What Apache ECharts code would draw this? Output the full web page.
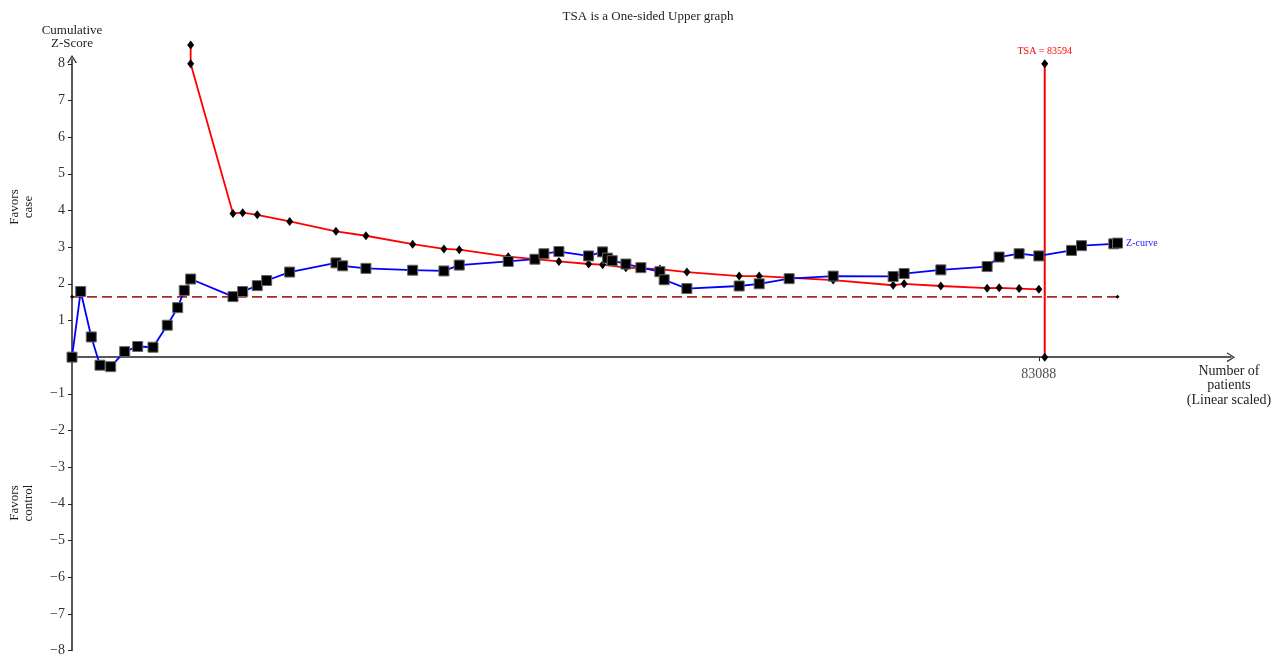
<!DOCTYPE html>
<html>
<head>
<meta charset="utf-8">
<script src="https://cdn.jsdelivr.net/npm/echarts@6/dist/echarts.min.js"></script>
<style>
  html, body { margin: 0; padding: 0; background: #fff; }
  #chart { width: 1279px; height: 656px; }
</style>
</head>
<body>
<div id="chart"></div>
<script>
// Cumulative Z-curve: accrued patients and cumulative Z-score per update
const zPatients = [0, 748, 1658, 2406, 3325, 4528, 5645, 6960, 8188, 9082,
  9649, 10199, 13833, 14667, 15921, 16729, 18705, 22683, 23259, 25260,
  29273, 31962, 33277, 37487, 39781, 40554, 41843, 44395, 45598, 46027,
  46423, 47600, 48888, 50521, 50890, 52841, 57334, 59053, 61630, 65411,
  70566, 71511, 74664, 78643, 79674, 81392, 83088, 85896, 86754, 89529,
  89848];
const zScores = [0, 1.79, 0.55, -0.22, -0.26, 0.15, 0.29, 0.27, 0.87, 1.35,
  1.82, 2.13, 1.65, 1.79, 1.95, 2.09, 2.32, 2.57, 2.49, 2.42,
  2.37, 2.35, 2.51, 2.61, 2.67, 2.82, 2.88, 2.76, 2.87, 2.70,
  2.63, 2.54, 2.44, 2.33, 2.11, 1.87, 1.94, 2.00, 2.14, 2.21,
  2.20, 2.28, 2.38, 2.47, 2.73, 2.82, 2.76, 2.91, 3.04, 3.09,
  3.11];

// One-sided upper monitoring boundary
const boundaryPatients = [10199, 10199, 13833, 14667, 15921, 18705, 22683, 25260,
  29273, 31962, 33277, 37487, 41843, 44395, 45598, 47600, 50521, 52841,
  57334, 59053, 65411, 70566, 71511, 74664, 78643, 79674, 81392, 83088];
const boundaryScores = [8.51, 8.0, 3.92, 3.94, 3.88, 3.70, 3.43, 3.31,
  3.08, 2.95, 2.93, 2.74, 2.61, 2.54, 2.52, 2.44, 2.40, 2.32,
  2.21, 2.21, 2.10, 1.96, 2.00, 1.94, 1.88, 1.89, 1.87, 1.85];

// Conventional one-sided significance level (alpha = 5%)
const conventionalZ = 1.645;
const conventionalRange = [0, 89848];

// Required information size
const tsaValue = 83594;
const tsaTopZ = 8;

// Axis ticks
const xTickValues = [83088];
const yTickValues = [-8, -7, -6, -5, -4, -3, -2, -1, 1, 2, 3, 4, 5, 6, 7, 8];

const serif = '"Liberation Serif", "Times New Roman", serif';
const zip = (xs, ys) => xs.map((x, i) => [x, ys[i]]);
// open chevron arrow (points up, rotated by the axis)
const chevron = 'path://M5,0 L10,8 L8.6,8 L5,1.9 L1.4,8 L0,8 Z';

const chart = echarts.init(document.getElementById('chart'), null, { renderer: 'canvas' });

const lastZ = zPatients.length - 1;

const option = {
  animation: false,
  backgroundColor: '#ffffff',
  grid: { left: 72, right: 48, top: 59, bottom: 5.5, containLabel: false, outerBoundsMode: 'none' },
  xAxis: {
    type: 'value',
    min: 0,
    max: 99600,
    splitLine: { show: false },
    axisLine: {
      onZero: true,
      symbol: ['none', chevron],
      symbolSize: [10, 8],
      lineStyle: { color: '#222', width: 1.5 }
    },
    axisTick: { customValues: xTickValues, length: 4, lineStyle: { color: '#222', width: 1 } },
    axisLabel: { show: false }
  },
  yAxis: {
    type: 'value',
    min: -8,
    max: 8.13,
    splitLine: { show: false },
    axisLine: {
      symbol: ['none', chevron],
      symbolSize: [10, 8],
      lineStyle: { color: '#222', width: 1.5 }
    },
    axisTick: { customValues: yTickValues, length: 4, lineStyle: { color: '#222', width: 1 } },
    axisLabel: {
      customValues: yTickValues,
      fontFamily: serif, fontSize: 14, color: '#333', margin: 7,
      formatter: v => String(v).replace('-', '\u2212')
    }
  },
  series: [
    {
      name: 'Conventional',
      type: 'line',
      clip: false,
      data: conventionalRange.map(x => [x, conventionalZ]),
      symbol: 'diamond',
      symbolSize: 4,
      itemStyle: { color: '#000' },
      lineStyle: { color: '#a52a2a', width: 1.8, type: [10, 5] },
      z: 2
    },
    {
      name: 'Boundary',
      type: 'line',
      clip: false,
      data: zip(boundaryPatients, boundaryScores),
      symbol: 'diamond',
      symbolSize: [7, 9],
      itemStyle: { color: '#000' },
      lineStyle: { color: '#ff0000', width: 1.8 },
      z: 3
    },
    {
      name: 'Z-curve',
      type: 'line',
      clip: false,
      data: zip(zPatients, zScores),
      symbol: 'rect',
      symbolSize: 10,
      itemStyle: { color: '#000', borderColor: '#666', borderWidth: 1 },
      lineStyle: { color: '#0000ff', width: 1.8 },
      label: {
        show: true,
        position: 'right',
        distance: 3,
        color: '#2020ff',
        fontFamily: serif,
        fontSize: 10,
        formatter: p => (p.dataIndex === lastZ ? 'Z-curve' : '')
      },
      z: 4
    },
    {
      name: 'TSA',
      type: 'line',
      clip: false,
      data: [[tsaValue, 0], [tsaValue, tsaTopZ]],
      symbol: 'diamond',
      symbolSize: [7, 9],
      itemStyle: { color: '#000' },
      lineStyle: { color: '#ff0000', width: 2 },
      label: {
        show: true,
        position: 'top',
        distance: 3,
        color: '#ff0000',
        fontFamily: serif,
        fontSize: 10,
        formatter: p => (p.dataIndex === 1 ? 'TSA = ' + tsaValue : '')
      },
      z: 3
    },
    {
      // tick labels of the patient axis, placed on the zero line
      name: 'xTickLabels',
      type: 'scatter',
      clip: false,
      silent: true,
      data: xTickValues.map(v => [v, 0]),
      symbolSize: 0,
      label: {
        show: true,
        position: 'bottom',
        distance: 10,
        color: '#222',
        fontFamily: serif,
        fontSize: 14,
        formatter: p => String(p.value[0])
      },
      z: 1
    }
  ],
  graphic: [
    {
      type: 'text', x: 648, y: 17,
      style: { text: 'TSA is a One-sided Upper graph', font: '13px ' + serif, fill: '#222',
        align: 'center', verticalAlign: 'middle' }
    },
    {
      type: 'text', x: 72, y: 37.5,
      style: { text: 'Cumulative\nZ-Score', font: '13px ' + serif, fill: '#222',
        align: 'center', verticalAlign: 'middle', lineHeight: 13 }
    },
    {
      type: 'text', x: 22, y: 207, rotation: Math.PI / 2,
      style: { text: 'Favors\ncase', font: '13px ' + serif, fill: '#222',
        align: 'center', verticalAlign: 'middle', lineHeight: 14 }
    },
    {
      type: 'text', x: 22, y: 503, rotation: Math.PI / 2,
      style: { text: 'Favors\ncontrol', font: '13px ' + serif, fill: '#222',
        align: 'center', verticalAlign: 'middle', lineHeight: 14 }
    },
    {
      type: 'text', x: 1229, y: 385.5,
      style: { text: 'Number of\npatients\n(Linear scaled)', font: '14px ' + serif, fill: '#222',
        align: 'center', verticalAlign: 'middle', lineHeight: 14.5 }
    }
  ]
};

chart.setOption(option);
</script>
</body>
</html>
